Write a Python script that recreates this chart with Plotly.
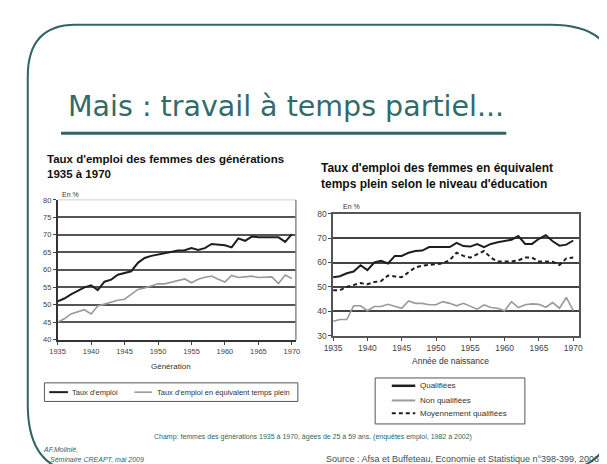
import plotly.graph_objects as go

W, H = 607, 464

# ---------------- data ----------------
years = list(range(1935, 1971))

taux_emploi = [51.0, 51.8, 53.0, 54.0, 55.0, 55.6, 54.2, 56.6, 57.2, 58.6,
               59.2, 59.6, 62.0, 63.4, 64.0, 64.4, 64.8, 65.1, 65.5, 65.6,
               66.2, 65.7, 66.2, 67.4, 67.2, 67.0, 66.4, 69.0, 68.3, 69.5,
               69.3, 69.3, 69.3, 69.3, 68.0, 70.2]
taux_etp = [45.0, 46.0, 47.4, 48.0, 48.6, 47.4, 49.7, 50.2, 50.8, 51.3,
            51.6, 53.0, 54.4, 54.8, 55.3, 56.0, 56.0, 56.4, 56.8, 57.4,
            56.3, 57.3, 57.9, 58.2, 57.3, 56.5, 58.4, 57.8, 58.0, 58.2,
            57.8, 57.8, 58.0, 56.1, 58.5, 57.5]

qualifiees = [54.0, 54.4, 55.6, 56.3, 58.9, 56.9, 60.0, 60.7, 59.6, 62.7,
              62.7, 64.0, 64.7, 64.9, 66.3, 66.3, 66.3, 66.3, 68.0, 66.7,
              66.5, 67.5, 66.3, 67.6, 68.3, 68.8, 69.3, 70.8, 67.6, 67.6,
              69.7, 71.2, 68.7, 66.9, 67.3, 69.0]
non_qualifiees = [36.0, 36.7, 36.7, 42.3, 42.3, 40.3, 42.0, 42.0, 42.9, 42.0,
                  41.3, 44.3, 43.3, 43.3, 42.7, 42.7, 44.0, 43.3, 42.3, 43.3,
                  42.0, 40.9, 42.7, 41.6, 41.3, 40.3, 44.0, 41.6, 42.7, 43.1,
                  42.9, 41.7, 43.6, 41.3, 45.7, 40.3]
moyennement = [48.7, 48.7, 50.0, 50.9, 51.6, 51.1, 52.0, 52.4, 54.7, 54.3,
               54.0, 56.0, 58.0, 58.7, 58.9, 59.3, 59.7, 61.0, 64.0, 62.7,
               62.0, 63.3, 64.7, 62.0, 60.4, 60.4, 60.4, 60.9, 62.0, 62.0,
               60.4, 60.4, 60.3, 59.0, 61.7, 62.0]

xticks = [1935, 1940, 1945, 1950, 1955, 1960, 1965, 1970]
left_yticks = [40, 45, 50, 55, 60, 65, 70, 75, 80]
right_yticks = [30, 40, 50, 60, 70, 80]

# ---------------- helpers ----------------
def px(x):
    return x / W

def py(y):
    return 1 - y / H

TEAL = "#2f6566"
SANS = "Liberation Sans, Arial, sans-serif"

fig = go.Figure()

# left chart traces
fig.add_trace(go.Scatter(x=years, y=taux_emploi, mode="lines",
                         line=dict(color="#1e1e1e", width=2),
                         xaxis="x", yaxis="y", showlegend=False))
fig.add_trace(go.Scatter(x=years, y=taux_etp, mode="lines",
                         line=dict(color="#9a9a9a", width=1.6),
                         xaxis="x", yaxis="y", showlegend=False))
# right chart traces
fig.add_trace(go.Scatter(x=years, y=qualifiees, mode="lines",
                         line=dict(color="#1e1e1e", width=2),
                         xaxis="x2", yaxis="y2", showlegend=False))
fig.add_trace(go.Scatter(x=years, y=non_qualifiees, mode="lines",
                         line=dict(color="#9a9a9a", width=1.6),
                         xaxis="x2", yaxis="y2", showlegend=False))
fig.add_trace(go.Scatter(x=years, y=moyennement, mode="lines",
                         line=dict(color="#1e1e1e", width=2, dash="4px,3px"),
                         xaxis="x2", yaxis="y2", showlegend=False))

tickfont_l = dict(family=SANS, size=7.5, color="#444")
tickfont_r = dict(family=SANS, size=8.5, color="#444")

fig.update_layout(
    width=W, height=H,
    margin=dict(l=0, r=0, t=0, b=0),
    paper_bgcolor="white", plot_bgcolor="white",
    xaxis=dict(domain=[px(41.5), px(285)], range=[1935, 1970.6],
               tickvals=xticks, ticks="outside", ticklen=3, tickcolor="#444",
               showline=True, linecolor="#333", linewidth=1.5,
               showgrid=False, zeroline=False, tickfont=tickfont_l),
    yaxis=dict(domain=[py(334), py(191)], range=[40, 80],
               tickvals=left_yticks, ticks="outside", ticklen=3, tickcolor="#444",
               showline=True, linecolor="#333", linewidth=1.5,
               showgrid=True, gridcolor="#555", gridwidth=1.5,
               zeroline=False, tickfont=tickfont_l),
    xaxis2=dict(domain=[px(323), px(574)], range=[1935, 1970.8],
                anchor="y2",
                tickvals=xticks, ticks="outside", ticklen=3, tickcolor="#444",
                showline=True, linecolor="#555", linewidth=1.5, mirror=True,
                showgrid=False, zeroline=False, tickfont=tickfont_r),
    yaxis2=dict(domain=[py(330), py(205)], range=[30, 80], anchor="x2",
                tickvals=right_yticks, ticks="outside", ticklen=3, tickcolor="#444",
                showline=True, linecolor="#555", linewidth=1.5, mirror=True,
                showgrid=True, gridcolor="#444", gridwidth=1.5,
                zeroline=False, tickfont=tickfont_r),
)

shapes = []
# left chart: faint top and right borders
shapes.append(dict(type="line", xref="paper", yref="paper",
                   x0=px(41.5), x1=px(285), y0=py(191), y1=py(191),
                   line=dict(color="#cfcfcf", width=1)))
shapes.append(dict(type="line", xref="paper", yref="paper",
                   x0=px(285), x1=px(285), y0=py(191), y1=py(334),
                   line=dict(color="#8a8a8a", width=1.5)))

# slide frame (rounded corners)
def P(x, y):
    return f"{px(x):.5f},{py(y):.5f}"

frame = (f"M {P(11, 400)} L {P(11, 65)} Q {P(11, 12)} {P(60, 12)} "
         f"L {P(545, 12)} Q {P(612, 12)} {P(612, 68)} "
         f"L {P(612, 400)} Q {P(612, 470)} {P(540, 470)} "
         f"L {P(70, 470)} Q {P(11, 470)} {P(11, 400)} Z")
shapes.append(dict(type="path", xref="paper", yref="paper", path=frame,
                   line=dict(color=TEAL, width=2)))
# title underline
shapes.append(dict(type="line", xref="paper", yref="paper",
                   x0=px(45), x1=px(500), y0=py(123), y1=py(123),
                   line=dict(color=TEAL, width=3)))

# left legend box
shapes.append(dict(type="rect", xref="paper", yref="paper",
                   x0=px(28), x1=px(287), y0=py(378), y1=py(397),
                   line=dict(color="#555", width=1)))
shapes.append(dict(type="line", xref="paper", yref="paper",
                   x0=px(33), x1=px(52), y0=py(387.5), y1=py(387.5),
                   line=dict(color="#1e1e1e", width=2)))
shapes.append(dict(type="line", xref="paper", yref="paper",
                   x0=px(120), x1=px(138), y0=py(387.5), y1=py(387.5),
                   line=dict(color="#9a9a9a", width=1.6)))
# right legend box
shapes.append(dict(type="rect", xref="paper", yref="paper",
                   x0=px(366), x1=px(519), y0=py(373), y1=py(420),
                   line=dict(color="#555", width=1)))
shapes.append(dict(type="line", xref="paper", yref="paper",
                   x0=px(383), x1=px(407), y0=py(381), y1=py(381),
                   line=dict(color="#1e1e1e", width=2.5)))
shapes.append(dict(type="line", xref="paper", yref="paper",
                   x0=px(383), x1=px(407), y0=py(396), y1=py(396),
                   line=dict(color="#9a9a9a", width=2)))
shapes.append(dict(type="line", xref="paper", yref="paper",
                   x0=px(383), x1=px(407), y0=py(409), y1=py(409),
                   line=dict(color="#1e1e1e", width=2, dash="4px,3px")))

fig.update_layout(shapes=shapes)

ann = []
def text(x, y, s, size, color="#222", family=SANS, xanchor="left", yanchor="middle", bold=False, italic=False):
    if bold:
        s = f"<b>{s}</b>"
    if italic:
        s = f"<i>{s}</i>"
    ann.append(dict(x=px(x), y=py(y), xref="paper", yref="paper", text=s,
                    showarrow=False, xanchor=xanchor, yanchor=yanchor,
                    align="left",
                    font=dict(family=family, size=size, color=color)))

text(50, 96, "Mais : travail à temps partiel...", 28.5, color="#336a6b",
     family="DejaVu Sans, sans-serif")

text(29, 157, "<b>Taux d'emploi des femmes des générations</b><br><b>1935 à 1970</b>",
     11.5, color="#111")
text(309, 167, "<b>Taux d'emploi des femmes en équivalent</b><br><b>temps plein selon le niveau d'éducation</b>",
     12, color="#111")

text(44, 185, "En %", 7, color="#333")
text(331, 198, "En %", 7, color="#333")

text(157, 361, "Génération", 8, color="#333", xanchor="center")
text(443, 356, "Année de naissance", 8.5, color="#333", xanchor="center")

text(54, 387.5, "Taux d'emploi", 7.5, color="#333")
text(141, 387.5, "Taux d'emploi en équivalent temps plein", 7.5, color="#333")
text(410, 381, "Qualifiées", 8, color="#333")
text(410, 396, "Non qualifiées", 8, color="#333")
text(410, 409, "Moyennement qualifiées", 8, color="#333")

text(302, 433, "Champ: femmes des générations 1935 à 1970, âgées de 25 à 59 ans. (enquêtes emploi, 1982 à 2002)",
     7, color="#2f6566", xanchor="center")
text(25, 446, "AF.Molinié,", 7, color="#2f6566", italic=True)
text(32, 456.5, "Séminaire CREAPT, mai 2009", 7, color="#2f6566", italic=True)
text(597, 455.5, "Source : Afsa et Buffeteau, Economie et Statistique n°398-399, 2006",
     9, color="#3d4f4f", xanchor="right")

fig.update_layout(annotations=ann)

fig.write_html("out.html")
